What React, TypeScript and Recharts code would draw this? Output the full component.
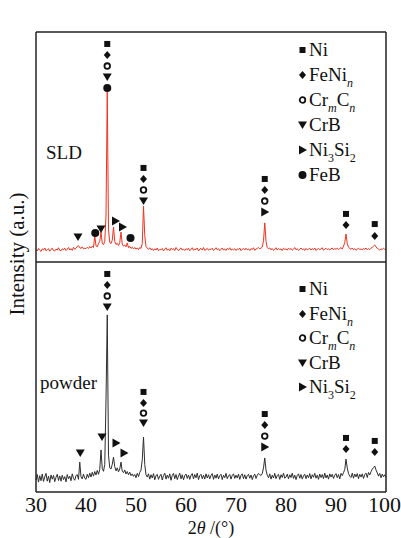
import React from 'react';
import { ComposedChart, Line, ReferenceLine, Scatter, XAxis, YAxis } from 'recharts';

// 2θ grid: 30° to 100° every 0.25°
const thetaStart = 30;
const thetaStep = 0.25;

// SLD pattern, relative intensity within its panel (0-100)
const sldIntensity = [
  5.4, 4.8, 5.9, 5.1, 4.6, 5.7, 5.2, 6.1, 4.9, 5.3, 5.8, 4.7, 5.5, 6.0, 5.0, 4.8, 5.6, 5.2, 6.2, 5.1,
  4.9, 5.7, 5.3, 6.0, 5.0, 5.6, 6.3, 5.2, 5.8, 5.1, 6.4, 5.5, 6.0, 6.8, 7.1, 6.2, 5.9, 6.6, 5.7, 6.0,
  5.8, 6.4, 5.9, 6.7, 6.1, 6.9, 6.3, 11.3, 7.0, 6.6, 8.1, 9.0, 13.0, 8.2, 7.5, 9.0, 20.0, 73.9, 14.0, 8.5,
  8.0, 9.5, 15.2, 9.0, 7.6, 8.1, 7.2, 8.4, 13.0, 7.8, 6.9, 7.4, 6.6, 8.3, 6.2, 6.8, 5.9, 6.4, 5.7, 6.3,
  5.6, 6.1, 5.4, 6.3, 5.9, 8.0, 24.3, 11.5, 6.8, 6.0, 5.5, 6.2, 5.3, 5.8, 5.0, 5.7, 5.2, 6.1, 4.9, 5.5,
  5.3, 5.9, 4.8, 5.6, 6.2, 5.1, 5.7, 4.9, 6.0, 5.4, 5.8, 5.0, 6.3, 5.5, 4.9, 5.7, 6.1, 5.2, 5.6, 5.0,
  5.8, 5.3, 6.0, 4.9, 5.5, 6.2, 5.1, 5.7, 5.4, 6.1, 4.8, 5.6, 5.9, 5.2, 6.3, 5.0, 5.5, 5.9, 5.1, 5.7,
  5.4, 6.0, 5.0, 5.6, 6.2, 5.3, 5.8, 4.9, 5.5, 6.1, 5.2, 5.7, 5.0, 5.9, 5.4, 6.2, 5.1, 5.6, 5.3, 5.8,
  5.0, 5.7, 5.4, 6.1, 4.9, 5.5, 5.9, 5.2, 6.0, 5.3, 5.7, 5.0, 5.8, 5.4, 6.2, 5.1, 5.6, 5.9, 6.3, 5.8,
  6.0, 6.5, 9.2, 17.0, 9.0, 6.3, 5.7, 6.1, 5.3, 5.8, 5.0, 5.6, 6.2, 5.2, 5.9, 5.4, 5.7, 5.0, 6.0, 5.5,
  5.7, 5.2, 6.0, 5.4, 5.9, 5.1, 5.6, 6.3, 5.3, 5.8, 5.0, 5.5, 6.1, 5.4, 5.7, 5.0, 5.9, 5.3, 5.6, 6.0,
  5.2, 5.8, 5.4, 6.1, 5.0, 5.6, 5.9, 5.3, 5.7, 6.2, 5.1, 5.5, 6.0, 5.4, 5.8, 5.2, 5.7, 6.1, 5.3, 5.9,
  5.5, 6.0, 5.4, 5.8, 6.3, 5.6, 6.9, 8.5, 12.2, 8.0, 6.4, 5.9, 5.5, 6.1, 5.3, 5.8, 5.1, 5.6, 6.0, 5.4,
  5.7, 5.2, 5.9, 5.5, 6.1, 5.3, 5.8, 5.4, 6.0, 6.4, 6.9, 7.4, 6.6, 5.9, 5.6, 5.2, 5.7, 5.4, 6.0, 5.5,
  5.6,
];

// powder pattern
const powderIntensity = [
  5.2, 7.6, 4.3, 7.1, 4.9, 7.8, 4.6, 6.5, 8.1, 4.7, 6.9, 4.1, 7.4, 5.6, 7.2, 4.5, 6.4, 7.7, 5.0, 7.0,
  4.7, 7.3, 5.4, 6.7, 4.4, 7.6, 5.7, 6.9, 4.9, 7.9, 5.9, 5.1, 7.2, 7.5, 5.5, 13.0, 6.6, 5.7, 7.8, 6.0,
  5.5, 7.7, 6.2, 8.2, 6.5, 8.6, 6.9, 8.9, 7.4, 9.4, 7.7, 9.8, 18.3, 10.2, 9.0, 12.0, 40.0, 77.0, 16.0, 10.5,
  10.0, 12.0, 15.2, 11.0, 9.2, 10.5, 8.8, 10.0, 13.0, 9.0, 8.4, 9.6, 7.8, 8.9, 7.5, 8.6, 7.1, 7.9, 6.8, 7.6,
  6.2, 8.1, 6.7, 8.5, 9.5, 14.0, 23.9, 12.0, 7.5, 6.5, 7.9, 5.6, 7.5, 6.1, 8.0, 5.3, 7.2, 7.6, 5.5, 6.9,
  7.7, 5.2, 7.1, 8.2, 5.6, 7.3, 6.0, 7.9, 5.1, 7.2, 8.1, 5.8, 7.6, 5.4, 6.9, 8.2, 5.7, 7.5, 5.3, 7.1,
  7.8, 5.9, 7.4, 5.5, 7.2, 8.0, 5.7, 7.6, 6.2, 8.2, 5.4, 7.1, 7.7, 5.8, 7.3, 5.6, 7.9, 6.1, 7.5, 5.7,
  7.2, 8.0, 5.5, 7.4, 6.0, 7.8, 5.7, 7.1, 7.7, 5.4, 7.3, 6.2, 8.1, 5.8, 7.0, 7.6, 5.6, 7.2, 7.9, 5.9,
  7.3, 6.1, 7.8, 5.5, 7.2, 7.9, 5.8, 7.5, 5.6, 7.1, 7.7, 6.0, 7.4, 5.4, 7.0, 7.8, 5.9, 7.3, 8.1, 7.5,
  7.2, 8.0, 10.5, 14.8, 9.5, 7.3, 6.2, 7.9, 5.6, 7.3, 6.1, 8.1, 5.8, 7.2, 7.7, 5.5, 7.5, 6.3, 8.2, 6.0,
  6.5, 7.8, 5.7, 7.5, 6.3, 8.2, 5.9, 7.3, 5.4, 7.2, 7.9, 6.0, 7.6, 5.6, 7.0, 7.7, 5.8, 7.4, 6.2, 8.0,
  5.7, 7.5, 6.4, 8.1, 6.0, 7.3, 5.5, 7.8, 6.3, 7.6, 5.8, 8.2, 6.1, 7.4, 5.6, 7.9, 6.5, 7.7, 5.9, 7.3,
  8.0, 6.2, 7.6, 5.7, 8.1, 7.1, 8.4, 9.8, 14.3, 10.5, 8.0, 6.9, 6.3, 8.2, 6.0, 7.8, 6.6, 8.0, 5.8, 7.7,
  6.5, 7.9, 5.9, 7.6, 8.2, 6.3, 8.5, 7.4, 8.8, 9.9, 10.6, 11.3, 9.6, 8.3, 6.9, 8.1, 6.2, 7.8, 6.6, 7.5,
  6.4,
];

const labelTicks = [30, 40, 50, 60, 70, 80, 90, 100];
const minorTicks = [30, 35, 40, 45, 50, 55, 60, 65, 70, 75, 80, 85, 90, 95, 100];

// phase markers [2θ, height in panel]
const sldNi = [[44.25, 94.8], [51.5, 40.9], [75.75, 36.1], [92.0, 20.9], [97.75, 16.5]];
const sldFeNi = [[44.25, 90.0], [51.5, 36.1], [75.75, 31.3], [92.0, 16.1], [97.75, 11.3]];
const sldCrC = [[44.25, 85.2], [51.5, 31.3], [75.75, 26.5]];
const sldCrB = [[38.4, 10.9], [43.0, 14.3], [44.25, 80.4], [51.5, 26.5]];
const sldNiSi = [[45.9, 17.8], [47.3, 15.2], [75.75, 21.7]];
const sldFeB = [[41.85, 12.6], [44.25, 75.7], [48.9, 10.4]];

const powderNi = [[44.25, 94.8], [51.5, 43.5], [75.75, 33.9], [92.0, 23.5], [97.75, 22.2]];
const powderFeNi = [[44.25, 90.0], [51.5, 38.7], [75.75, 29.1], [92.0, 18.7], [97.75, 17.4]];
const powderCrC = [[44.25, 85.2], [51.5, 34.3], [75.75, 24.3]];
const powderCrB = [[38.85, 17.0], [43.2, 23.9], [44.25, 80.4], [51.5, 30.0]];
const powderNiSi = [[46.0, 21.3], [47.6, 17.0], [75.75, 19.6]];

const TOP = 100; // SLD panel sits on top of the powder panel
const FONT = "'Liberation Serif', 'DejaVu Serif', serif";
const INK = '#111';

const toLine = (vals: number[], offset: number) =>
  vals.map((v, i) => ({ x: thetaStart + i * thetaStep, y: v + offset }));
const toPoints = (pts: number[][], offset: number) => pts.map(([x, y]) => ({ x, y: y + offset }));

type P = { cx?: number; cy?: number };
const Square = ({ cx = 0, cy = 0 }: P) => <rect x={cx - 3} y={cy - 3} width={6} height={6} fill={INK} />;
const Diamond = ({ cx = 0, cy = 0 }: P) => (
  <polygon points={`${cx},${cy - 4} ${cx + 3.5},${cy} ${cx},${cy + 4} ${cx - 3.5},${cy}`} fill={INK} />
);
const Ring = ({ cx = 0, cy = 0 }: P) => <circle cx={cx} cy={cy} r={2.8} fill="none" stroke={INK} strokeWidth={1.8} />;
const TriDown = ({ cx = 0, cy = 0 }: P) => (
  <polygon points={`${cx - 4.5},${cy - 3.5} ${cx + 4.5},${cy - 3.5} ${cx},${cy + 4}`} fill={INK} />
);
const TriRight = ({ cx = 0, cy = 0 }: P) => (
  <polygon points={`${cx - 3.5},${cy - 4.5} ${cx - 3.5},${cy + 4.5} ${cx + 4.5},${cy}`} fill={INK} />
);
const Dot = ({ cx = 0, cy = 0 }: P) => <circle cx={cx} cy={cy} r={4} fill={INK} />;

const sub: React.CSSProperties = { fontSize: 12, position: 'relative', top: 6 };
const isub: React.CSSProperties = { ...sub, fontStyle: 'italic' };

const entries: Record<string, { Shape: React.FC<P>; label: React.ReactNode }> = {
  Ni: { Shape: Square, label: 'Ni' },
  FeNi: { Shape: Diamond, label: <>FeNi<span style={isub}>n</span></> },
  CrC: { Shape: Ring, label: <>Cr<span style={isub}>m</span>C<span style={isub}>n</span></> },
  CrB: { Shape: TriDown, label: 'CrB' },
  NiSi: { Shape: TriRight, label: <>Ni<span style={sub}>3</span>Si<span style={sub}>2</span></> },
  FeB: { Shape: Dot, label: 'FeB' },
};

const LegendBox = ({ keys, top, step }: { keys: string[]; top: number; step: number }) => (
  <div style={{ position: 'absolute', left: 297, top, fontFamily: FONT, fontSize: 19, color: INK }}>
    {keys.map((k) => {
      const { Shape, label } = entries[k];
      return (
        <div key={k} style={{ display: 'flex', alignItems: 'center', height: step, whiteSpace: 'nowrap' }}>
          <svg width={11} height={12} style={{ marginRight: 1 }}>
            <Shape cx={5.5} cy={6} />
          </svg>
          <span>{label}</span>
        </div>
      );
    })}
  </div>
);

const markerSeries = (pts: number[][], offset: number, Shape: React.FC<P>, key: string) => (
  <Scatter
    key={key}
    xAxisId="b"
    data={toPoints(pts, offset)}
    dataKey="y"
    isAnimationActive={false}
    shape={(p: any) => <Shape cx={p.cx} cy={p.cy} />}
  />
);

export default function App() {
  const tickFont = { fontSize: 22, fill: INK, fontFamily: FONT, style: { fontFamily: FONT } };
  return (
    <div style={{ position: 'absolute', left: 0, top: 0, width: 401, height: 538, background: '#fff', fontFamily: FONT }}>
      <ComposedChart width={401} height={538} margin={{ top: 0, right: 15, bottom: 0, left: 36 }} style={{ fontFamily: FONT }}>
        <XAxis xAxisId="t" orientation="top" type="number" dataKey="x" domain={[30, 100]} ticks={labelTicks}
          height={32} tickLine={false} axisLine={false} tickSize={0} tickMargin={7} tick={tickFont} />
        <XAxis xAxisId="tm" orientation="top" type="number" dataKey="x" domain={[30, 100]} ticks={minorTicks}
          mirror tick={false} axisLine={false} tickSize={5} tickLine={{ stroke: '#222', strokeWidth: 1.5 }} />
        <XAxis xAxisId="b" orientation="bottom" type="number" dataKey="x" domain={[30, 100]} ticks={labelTicks}
          height={46} tickLine={false} axisLine={false} tickSize={0} tickMargin={4} tick={tickFont} />
        <XAxis xAxisId="bm" orientation="bottom" type="number" dataKey="x" domain={[30, 100]} ticks={minorTicks}
          mirror tick={false} axisLine={false} tickSize={5} tickLine={{ stroke: '#222', strokeWidth: 1.5 }} />
        <YAxis hide type="number" dataKey="y" domain={[0, 200]} />

        <Line xAxisId="b" data={toLine(sldIntensity, TOP)} dataKey="y" stroke="#f0321f" strokeWidth={1}
          dot={false} isAnimationActive={false} />
        <Line xAxisId="b" data={toLine(powderIntensity, 0)} dataKey="y" stroke="#2e2e2e" strokeWidth={1}
          dot={false} isAnimationActive={false} />

        {markerSeries(sldNi, TOP, Square, 's1')}
        {markerSeries(sldFeNi, TOP, Diamond, 's2')}
        {markerSeries(sldCrC, TOP, Ring, 's3')}
        {markerSeries(sldCrB, TOP, TriDown, 's4')}
        {markerSeries(sldNiSi, TOP, TriRight, 's5')}
        {markerSeries(sldFeB, TOP, Dot, 's6')}
        {markerSeries(powderNi, 0, Square, 'p1')}
        {markerSeries(powderFeNi, 0, Diamond, 'p2')}
        {markerSeries(powderCrC, 0, Ring, 'p3')}
        {markerSeries(powderCrB, 0, TriDown, 'p4')}
        {markerSeries(powderNiSi, 0, TriRight, 'p5')}

        <ReferenceLine xAxisId="b" y={200} stroke="#222" strokeWidth={1.5} />
        <ReferenceLine xAxisId="b" y={100} stroke="#222" strokeWidth={1.5} />
        <ReferenceLine xAxisId="b" y={0} stroke="#222" strokeWidth={1.5} />
        <ReferenceLine xAxisId="b" x={30} stroke="#222" strokeWidth={1.5} />
        <ReferenceLine xAxisId="b" x={100} stroke="#222" strokeWidth={1.5} />
      </ComposedChart>

      <LegendBox keys={['Ni', 'FeNi', 'CrC', 'CrB', 'NiSi', 'FeB']} top={37} step={25} />
      <LegendBox keys={['Ni', 'FeNi', 'CrC', 'CrB', 'NiSi']} top={277} step={24.5} />

      <div style={{ position: 'absolute', left: 46, top: 142, fontFamily: FONT, fontSize: 19, color: INK }}>SLD</div>
      <div style={{ position: 'absolute', left: 40, top: 372, fontFamily: FONT, fontSize: 19, color: INK }}>powder</div>
      <div style={{
        position: 'absolute', left: 17, top: 254, transform: 'translate(-50%, -50%) rotate(-90deg)',
        fontFamily: FONT, fontSize: 21, color: INK, whiteSpace: 'nowrap',
      }}>Intensity (a.u.)</div>
      <div style={{
        position: 'absolute', left: 211, top: 528, transform: 'translate(-50%, -50%)',
        fontFamily: FONT, fontSize: 18, lineHeight: '18px', color: INK, whiteSpace: 'nowrap',
      }}>2<i>θ</i> /(°)</div>
    </div>
  );
}
